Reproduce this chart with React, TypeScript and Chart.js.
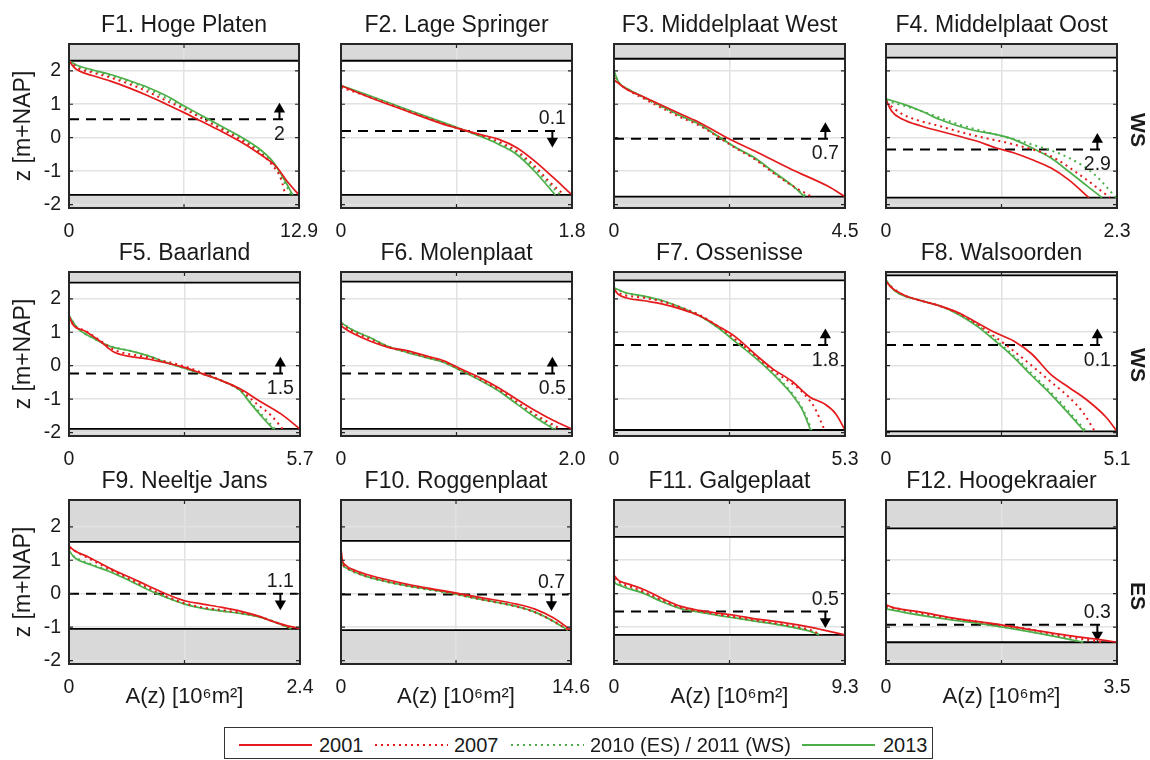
import React, { useEffect, useRef } from 'react';
import { Chart, registerables } from 'chart.js';
Chart.register(...registerables);

type Pt = [number, number];

// ---------------- DATA ----------------
const panelTitles = [
  'F1. Hoge Platen', 'F2. Lage Springer', 'F3. Middelplaat West', 'F4. Middelplaat Oost',
  'F5. Baarland', 'F6. Molenplaat', 'F7. Ossenisse', 'F8. Walsoorden',
  'F9. Neeltje Jans', 'F10. Roggenplaat', 'F11. Galgeplaat', 'F12. Hoogekraaier',
];
const areaMax = [12.9, 1.8, 4.5, 2.3, 5.7, 2.0, 5.3, 5.1, 2.4, 14.6, 9.3, 3.5];
const xMaxLabels = ['12.9', '1.8', '4.5', '2.3', '5.7', '2.0', '5.3', '5.1', '2.4', '14.6', '9.3', '3.5'];
const highWater = [2.3, 2.3, 2.36, 2.39, 2.48, 2.51, 2.55, 2.7, 1.55, 1.58, 1.7, 1.95];
const lowWater = [-1.71, -1.71, -1.76, -1.79, -1.89, -1.89, -1.92, -1.96, -1.05, -1.09, -1.23, -1.45];
const meanLevel = [0.55, 0.2, -0.03, -0.35, -0.23, -0.23, 0.62, 0.62, 0.0, -0.02, -0.53, -0.93];
const changeText = ['2', '0.1', '0.7', '2.9', '1.5', '0.5', '1.8', '0.1', '1.1', '0.7', '0.5', '0.3'];
const changeUp = [true, false, true, true, true, true, true, true, false, false, false, false];
const rowLabels = ['WS', 'WS', 'ES'];
const yTickValues = [-2, -1, 0, 1, 2];
const yTickLabels = ['-2', '-1', '0', '1', '2'];
const legendLabels = ['2001', '2007', '2010 (ES) / 2011 (WS)', '2013'];

const curves2001: Pt[][] = [
  [[0, 2.3], [0.27, 2.11], [0.58, 1.99], [1.3, 1.86], [2.33, 1.69], [3.36, 1.49], [4.4, 1.26], [5.43, 1.01], [6.46, 0.75], [7.39, 0.5], [8.52, 0.2], [9.56, -0.1], [10.59, -0.45], [11.62, -0.86], [12.24, -1.31], [12.9, -1.71]],
  [[0, 1.56], [0.22, 1.21], [0.51, 0.8], [0.8, 0.4], [0.91, 0.28], [1.08, 0.1], [1.23, -0.05], [1.37, -0.3], [1.51, -0.7], [1.66, -1.21], [1.8, -1.71]],
  [[0, 1.73], [0.23, 1.46], [0.59, 1.21], [1.31, 0.7], [1.67, 0.45], [2.24, -0.03], [2.74, -0.4], [3.46, -0.95], [4.18, -1.46], [4.5, -1.76]],
  [[0, 1.14], [0.055, 0.8], [0.166, 0.55], [0.35, 0.35], [0.53, 0.2], [0.72, 0.05], [0.9, -0.1], [1.09, -0.3], [1.27, -0.45], [1.45, -0.65], [1.64, -0.9], [1.82, -1.26], [2.02, -1.79]],
  [[0, 1.46], [0.12, 1.19], [0.39, 1.04], [0.76, 0.74], [1.12, 0.4], [1.94, 0.2], [2.85, -0.05], [3.31, -0.25], [3.77, -0.45], [4.22, -0.69], [4.68, -1.04], [5.23, -1.44], [5.7, -1.89]],
  [[0, 1.19], [0.089, 0.99], [0.25, 0.74], [0.41, 0.55], [0.57, 0.45], [0.73, 0.3], [0.89, 0.15], [1.04, -0.1], [1.2, -0.35], [1.36, -0.65], [1.52, -1.0], [1.68, -1.34], [1.84, -1.64], [2.0, -1.89]],
  [[0, 2.3], [0.1, 2.13], [0.27, 2.03], [0.69, 1.94], [1.12, 1.84], [1.54, 1.69], [1.96, 1.49], [2.38, 1.19], [2.81, 0.84], [3.23, 0.35], [3.65, -0.1], [4.07, -0.45], [4.5, -0.94], [4.83, -1.14], [5.09, -1.44], [5.3, -1.92]],
  [[0, 2.53], [0.12, 2.33], [0.37, 2.13], [0.78, 1.94], [1.18, 1.79], [1.59, 1.59], [2.0, 1.29], [2.41, 0.99], [2.82, 0.74], [3.22, 0.35], [3.63, -0.25], [4.04, -0.65], [4.45, -1.04], [4.86, -1.54], [5.1, -1.96]],
  [[0, 1.43], [0.05, 1.3], [0.2, 1.1], [0.43, 0.75], [0.63, 0.49], [0.82, 0.24], [1.01, -0.01], [1.2, -0.21], [1.39, -0.31], [1.59, -0.41], [1.78, -0.52], [1.97, -0.67], [2.16, -0.87], [2.4, -1.05]],
  [[0, 1.35], [0.07, 1.05], [0.3, 0.85], [0.89, 0.7], [1.82, 0.55], [4.15, 0.29], [6.48, 0.09], [7.65, -0.01], [8.82, -0.11], [11.15, -0.31], [12.31, -0.46], [13.48, -0.72], [14.6, -1.09]],
  [[0, 0.55], [0.18, 0.4], [0.62, 0.28], [1.22, 0.12], [1.96, -0.15], [2.7, -0.38], [3.44, -0.5], [4.18, -0.58], [4.92, -0.65], [5.67, -0.75], [6.41, -0.82], [7.15, -0.9], [7.89, -1.0], [8.63, -1.12], [9.3, -1.23]],
  [[0, -0.33], [0.084, -0.4], [0.53, -0.55], [1.09, -0.75], [1.65, -0.9], [2.21, -1.08], [2.77, -1.25], [3.16, -1.35], [3.5, -1.45]],
];

const curves2007: Pt[][] = [
  [[0, 2.3], [0.5, 2.08], [1.3, 1.95], [2.3, 1.8], [3.4, 1.6], [4.4, 1.38], [5.4, 1.12], [6.5, 0.85], [7.5, 0.56], [8.5, 0.27], [9.6, -0.05], [10.6, -0.4], [11.4, -0.82], [11.9, -1.25], [12.13, -1.71]],
  [[0, 1.5], [0.22, 1.22], [0.51, 0.82], [0.8, 0.42], [1.08, 0.08], [1.23, -0.12], [1.37, -0.4], [1.51, -0.85], [1.62, -1.3], [1.74, -1.71]],
  [[0, 1.8], [0.1, 1.62], [0.3, 1.4], [0.59, 1.16], [1.31, 0.6], [1.67, 0.36], [2.02, 0.03], [2.38, -0.32], [2.74, -0.64], [3.1, -1.05], [3.46, -1.42], [3.85, -1.76]],
  [[0, 1.06], [0.166, 0.7], [0.53, 0.35], [0.9, 0.05], [1.27, -0.2], [1.64, -0.55], [1.93, -1.11], [2.23, -1.79]],
  [[0, 1.46], [0.12, 1.2], [0.39, 1.05], [0.76, 0.76], [1.12, 0.47], [1.94, 0.25], [2.85, -0.02], [3.31, -0.22], [3.77, -0.45], [4.22, -0.72], [4.68, -1.19], [5.0, -1.5], [5.27, -1.89]],
  [[0, 1.25], [0.089, 1.05], [0.25, 0.8], [0.41, 0.56], [0.57, 0.42], [0.73, 0.27], [0.89, 0.12], [1.04, -0.13], [1.2, -0.4], [1.36, -0.7], [1.52, -1.07], [1.68, -1.45], [1.9, -1.89]],
  [[0, 2.23], [0.27, 2.1], [0.69, 2.03], [1.12, 1.91], [1.54, 1.74], [1.96, 1.52], [2.38, 1.18], [2.81, 0.76], [3.23, 0.32], [3.65, -0.15], [4.07, -0.52], [4.33, -0.8], [4.6, -1.25], [4.83, -1.92]],
  [[0, 2.48], [0.37, 2.12], [0.78, 1.94], [1.18, 1.79], [1.59, 1.57], [2.0, 1.25], [2.41, 0.86], [2.82, 0.44], [3.22, 0.0], [3.63, -0.47], [4.04, -0.94], [4.35, -1.4], [4.61, -1.96]],
  [[0, 1.37], [0.24, 1.0], [0.43, 0.72], [0.63, 0.44], [0.82, 0.18], [1.01, -0.08], [1.2, -0.28], [1.39, -0.41], [1.59, -0.49], [1.78, -0.57], [1.97, -0.68], [2.16, -0.87], [2.33, -1.05]],
  [[0, 1.22], [0.07, 0.96], [0.42, 0.76], [1.12, 0.61], [1.82, 0.5], [4.15, 0.25], [6.48, 0.07], [8.82, -0.16], [11.15, -0.38], [12.31, -0.55], [13.48, -0.82], [14.45, -1.09]],
  [[0, 0.45], [0.3, 0.3], [0.62, 0.22], [1.22, 0.05], [1.96, -0.2], [2.7, -0.42], [3.44, -0.53], [4.18, -0.62], [4.92, -0.7], [5.67, -0.79], [6.41, -0.87], [7.15, -0.96], [7.89, -1.08], [8.35, -1.23]],
  [[0, -0.38], [0.25, -0.47], [0.81, -0.68], [1.37, -0.83], [1.65, -0.92], [2.21, -1.07], [2.49, -1.2], [2.9, -1.33], [3.28, -1.45]],
];

const curves2011: Pt[][] = [
  [[0, 2.3], [0.5, 2.14], [1.3, 2.0], [2.3, 1.86], [3.4, 1.67], [4.4, 1.46], [5.4, 1.2], [6.5, 0.9], [7.5, 0.6], [8.5, 0.3], [9.6, 0.0], [10.6, -0.36], [11.4, -0.76], [12.0, -1.25], [12.45, -1.71]],
  [[0, 1.55], [0.22, 1.24], [0.51, 0.83], [0.8, 0.43], [1.08, 0.06], [1.23, -0.16], [1.37, -0.45], [1.51, -0.93], [1.6, -1.3], [1.71, -1.71]],
  [[0, 1.95], [0.09, 1.66], [0.3, 1.43], [0.59, 1.19], [1.31, 0.64], [1.67, 0.39], [2.02, 0.04], [2.38, -0.3], [2.74, -0.62], [3.1, -1.03], [3.46, -1.43], [3.75, -1.76]],
  [[0, 1.11], [0.35, 0.8], [0.72, 0.4], [1.09, 0.1], [1.45, -0.2], [1.82, -0.6], [2.08, -1.11], [2.29, -1.79]],
  [[0, 1.49], [0.21, 1.13], [0.57, 0.84], [1.03, 0.58], [1.49, 0.45], [1.94, 0.3], [2.4, 0.1], [3.04, -0.15], [3.77, -0.45], [4.22, -0.74], [4.5, -1.12], [4.8, -1.52], [5.08, -1.89]],
  [[0, 1.29], [0.089, 1.09], [0.25, 0.84], [0.41, 0.58], [0.57, 0.41], [0.73, 0.26], [0.89, 0.11], [1.04, -0.14], [1.2, -0.42], [1.36, -0.73], [1.52, -1.12], [1.68, -1.5], [1.86, -1.89]],
  [[0, 2.32], [0.27, 2.17], [0.69, 2.07], [1.12, 1.93], [1.54, 1.73], [1.96, 1.49], [2.38, 1.15], [2.81, 0.71], [3.23, 0.27], [3.65, -0.22], [4.07, -0.8], [4.33, -1.3], [4.54, -1.92]],
  [[0, 2.55], [0.2, 2.24], [0.78, 1.94], [1.18, 1.79], [1.59, 1.55], [2.0, 1.22], [2.41, 0.78], [2.82, 0.3], [3.22, -0.24], [3.63, -0.78], [4.04, -1.38], [4.42, -1.96]],
  [[0, 1.27], [0.05, 1.12], [0.24, 0.87], [0.43, 0.67], [0.63, 0.41], [0.82, 0.14], [1.01, -0.1], [1.2, -0.3], [1.39, -0.43], [1.59, -0.51], [1.78, -0.58], [1.97, -0.68], [2.16, -0.86], [2.33, -1.05]],
  [[0, 1.18], [0.07, 0.94], [0.42, 0.74], [1.12, 0.59], [1.82, 0.48], [4.15, 0.23], [6.48, 0.05], [8.82, -0.17], [11.15, -0.39], [12.31, -0.56], [13.48, -0.83], [14.4, -1.09]],
  [[0, 0.35], [0.47, 0.2], [1.22, 0.02], [1.96, -0.23], [2.7, -0.44], [3.44, -0.54], [4.18, -0.64], [4.92, -0.72], [5.67, -0.81], [6.41, -0.89], [7.15, -0.99], [7.89, -1.11], [8.3, -1.23]],
  [[0, -0.43], [0.25, -0.53], [0.81, -0.71], [1.37, -0.87], [1.93, -1.04], [2.49, -1.24], [3.02, -1.45]],
];

const curves2013: Pt[][] = [
  [[0, 2.3], [0.47, 2.16], [1.3, 2.03], [2.33, 1.89], [3.36, 1.71], [4.4, 1.51], [5.43, 1.26], [6.46, 0.95], [7.49, 0.65], [8.52, 0.35], [9.56, 0.05], [10.59, -0.3], [11.41, -0.7], [12.03, -1.21], [12.55, -1.71]],
  [[0, 1.56], [0.22, 1.26], [0.51, 0.85], [0.8, 0.45], [0.91, 0.3], [1.08, 0.05], [1.23, -0.2], [1.37, -0.5], [1.51, -1.01], [1.67, -1.71]],
  [[0, 1.99], [0.09, 1.66], [0.3, 1.43], [0.59, 1.21], [1.31, 0.65], [1.67, 0.4], [2.02, 0.05], [2.38, -0.3], [2.74, -0.6], [3.1, -1.01], [3.46, -1.41], [3.71, -1.76]],
  [[0, 1.16], [0.166, 1.01], [0.35, 0.8], [0.53, 0.55], [0.72, 0.35], [0.9, 0.2], [1.09, 0.1], [1.27, -0.05], [1.45, -0.3], [1.64, -0.6], [1.82, -1.01], [2.01, -1.46], [2.15, -1.79]],
  [[0, 1.49], [0.21, 1.12], [0.57, 0.84], [1.03, 0.57], [1.49, 0.45], [1.94, 0.3], [2.4, 0.1], [3.04, -0.15], [3.77, -0.45], [4.22, -0.74], [4.49, -1.14], [4.77, -1.54], [5.04, -1.89]],
  [[0, 1.29], [0.089, 1.09], [0.25, 0.84], [0.41, 0.57], [0.57, 0.4], [0.73, 0.25], [0.89, 0.1], [1.04, -0.15], [1.2, -0.43], [1.36, -0.74], [1.52, -1.14], [1.68, -1.54], [1.84, -1.89]],
  [[0, 2.33], [0.27, 2.18], [0.69, 2.08], [1.12, 1.94], [1.54, 1.74], [1.96, 1.49], [2.38, 1.14], [2.81, 0.69], [3.23, 0.25], [3.65, -0.25], [4.07, -0.84], [4.33, -1.34], [4.51, -1.92]],
  [[0, 2.55], [0.2, 2.23], [0.78, 1.94], [1.18, 1.79], [1.59, 1.54], [2.0, 1.19], [2.41, 0.74], [2.82, 0.25], [3.22, -0.3], [3.63, -0.84], [4.04, -1.44], [4.38, -1.96]],
  [[0, 1.3], [0.05, 1.1], [0.24, 0.85], [0.43, 0.65], [0.63, 0.39], [0.82, 0.12], [1.01, -0.11], [1.2, -0.31], [1.39, -0.44], [1.59, -0.52], [1.78, -0.59], [1.97, -0.69], [2.16, -0.87], [2.31, -1.05]],
  [[0, 1.2], [0.07, 0.95], [0.42, 0.75], [1.12, 0.6], [1.82, 0.49], [4.15, 0.24], [6.48, 0.06], [8.82, -0.16], [11.15, -0.38], [12.31, -0.55], [13.48, -0.82], [14.41, -1.09]],
  [[0, 0.32], [0.47, 0.18], [1.22, 0.0], [1.96, -0.25], [2.7, -0.45], [3.44, -0.55], [4.18, -0.65], [4.92, -0.73], [5.67, -0.82], [6.41, -0.9], [7.15, -1.0], [7.89, -1.12], [8.26, -1.23]],
  [[0, -0.45], [0.25, -0.55], [0.81, -0.73], [1.37, -0.88], [1.93, -1.05], [2.49, -1.25], [2.99, -1.45]],
];

// ---------------- LAYOUT / STYLE ----------------
const FONT = '"Liberation Sans", Arial, Helvetica, sans-serif';
const RED = '#e41a1c';
const GREEN = '#4daf4a';
const BAND = '#d9d9d9';
const GRID = '#e2e2e2';
const BOX = '#262626';
const TEXT = '#1a1a1a';

const PLOT_LEFT = [69, 341, 614, 886];
const PLOT_TOP = [44, 272, 500];
const PLOT_W = 231;
const PLOT_H = 164;
const Y_AXIS_W = 64;
const TITLE_H = 40;
const X_AXIS_H = 48;
const RIGHT_PAD = 30;
const Y_MIN = -2.1;
const Y_MAX = 2.8;
const ROW_LABEL_Y = [130, 365, 596];

const toXY = (pts: Pt[]) => pts.map(([a, z]) => ({ x: a, y: z }));

function Panel({ i }: { i: number }) {
  const ref = useRef<HTMLCanvasElement>(null);
  const row = Math.floor(i / 4);
  const col = i % 4;
  const w = Y_AXIS_W + PLOT_W + RIGHT_PAD;
  const h = TITLE_H + PLOT_H + X_AXIS_H;

  useEffect(() => {
    const max = areaMax[i];
    const dashEnd = row === 2 && col < 2 ? max * 0.99 : max * 0.95;
    const arrowX = max * 0.915;
    const up = changeUp[i];
    const tip = up ? meanLevel[i] + 0.3 : meanLevel[i] - 0.3;
    const labelZ = up ? meanLevel[i] - 0.46 : meanLevel[i] + 0.36;

    const curve = (pts: Pt[], color: string, dotted: boolean) => ({
      data: toXY(pts),
      borderColor: color,
      borderWidth: dotted ? 2 : 1.7,
      borderDash: dotted ? [2, 4] : [],
      pointRadius: 0,
      fill: false,
      cubicInterpolationMode: 'monotone',
    });

    const decor = {
      id: 'panelDecor' + i,
      beforeDraw(chart: any) {
        const { ctx, chartArea: a, scales } = chart;
        const y = scales.y;
        const yh = y.getPixelForValue(highWater[i]);
        const yl = y.getPixelForValue(lowWater[i]);
        ctx.save();
        ctx.fillStyle = BAND;
        ctx.fillRect(a.left, a.top, a.right - a.left, yh - a.top);
        ctx.fillRect(a.left, yl, a.right - a.left, a.bottom - yl);
        ctx.restore();
      },
      afterDraw(chart: any) {
        const { ctx, chartArea: a, scales } = chart;
        const x = scales.x;
        const y = scales.y;
        ctx.save();
        ctx.strokeStyle = BOX;
        ctx.lineWidth = 1.2;
        ctx.beginPath();
        yTickValues.forEach((v) => {
          const py = y.getPixelForValue(v);
          ctx.moveTo(a.left, py);
          ctx.lineTo(a.left + 4, py);
          ctx.moveTo(a.right, py);
          ctx.lineTo(a.right - 4, py);
        });
        const mx = x.getPixelForValue(max / 2);
        ctx.moveTo(mx, a.top);
        ctx.lineTo(mx, a.top + 4);
        ctx.moveTo(mx, a.bottom);
        ctx.lineTo(mx, a.bottom - 4);
        ctx.stroke();
        ctx.lineWidth = 2;
        ctx.strokeRect(a.left, a.top, a.right - a.left, a.bottom - a.top);
        ctx.fillStyle = TEXT;
        ctx.font = '19.5px ' + FONT;
        ctx.textAlign = 'center';
        ctx.textBaseline = 'middle';
        ctx.fillText(changeText[i], x.getPixelForValue(arrowX), y.getPixelForValue(labelZ));
        ctx.restore();
      },
    };

    const config: any = {
      type: 'line',
      data: {
        datasets: [
          curve(curves2001[i], RED, false),
          curve(curves2007[i], RED, true),
          curve(curves2011[i], GREEN, true),
          curve(curves2013[i], GREEN, false),
          {
            data: [{ x: 0, y: highWater[i] }, { x: max, y: highWater[i] }],
            borderColor: '#000', borderWidth: 1.8, pointRadius: 0,
          },
          {
            data: [{ x: 0, y: lowWater[i] }, { x: max, y: lowWater[i] }],
            borderColor: '#000', borderWidth: 1.8, pointRadius: 0,
          },
          {
            data: [{ x: 0, y: meanLevel[i] }, { x: dashEnd, y: meanLevel[i] }],
            borderColor: '#000', borderWidth: 2, borderDash: [10, 7], pointRadius: 0,
          },
          {
            data: [{ x: arrowX, y: meanLevel[i] }, { x: arrowX, y: tip }],
            borderColor: '#000', borderWidth: 2,
            pointRadius: [0, 6.5], pointStyle: 'triangle',
            pointRotation: up ? 0 : 180,
            pointBackgroundColor: '#000', pointBorderColor: '#000', pointBorderWidth: 0,
          },
        ],
      },
      options: {
        responsive: false,
        animation: false,
        events: [],
        layout: { padding: { left: 0, top: 0, bottom: 0, right: RIGHT_PAD } },
        plugins: {
          legend: { display: false },
          tooltip: { enabled: false },
          title: {
            display: true,
            fullSize: false,
            text: panelTitles[i],
            color: TEXT,
            font: { family: FONT, size: 23, weight: 'normal', lineHeight: 1.2 },
            padding: { top: 8, bottom: 4.4 },
          },
        },
        scales: {
          x: {
            type: 'linear',
            min: 0,
            max: max,
            afterBuildTicks: (s: any) => { s.ticks = [{ value: 0 }, { value: max / 2 }, { value: max }]; },
            afterFit: (s: any) => { s.height = X_AXIS_H; },
            ticks: {
              padding: 12,
              color: TEXT,
              maxRotation: 0,
              autoSkip: false,
              font: { family: FONT, size: 19.5 },
              callback: (_v: any, idx: number) => (idx === 0 ? '0' : idx === 2 ? xMaxLabels[i] : ''),
            },
            grid: {
              drawTicks: false,
              lineWidth: 1.5,
              color: (ctx: any) => (ctx.index === 1 ? GRID : 'rgba(0,0,0,0)'),
            },
            border: { display: false },
            title: {
              display: row === 2,
              text: 'A(z) [10⁶m²]',
              color: TEXT,
              font: { family: FONT, size: 22, lineHeight: 1.2 },
              padding: { top: 0, bottom: 1.8 },
            },
          },
          y: {
            type: 'linear',
            min: Y_MIN,
            max: Y_MAX,
            afterBuildTicks: (s: any) => { s.ticks = yTickValues.map((v) => ({ value: v })); },
            afterFit: (s: any) => { s.width = Y_AXIS_W; },
            ticks: {
              display: col === 0,
              padding: 8,
              color: TEXT,
              font: { family: FONT, size: 19.5 },
              callback: (v: any) => yTickLabels[yTickValues.indexOf(Number(v))] ?? '',
            },
            grid: { drawTicks: false, lineWidth: 1.5, color: GRID },
            border: { display: false },
            title: {
              display: col === 0,
              text: 'z [m+NAP]',
              color: TEXT,
              font: { family: FONT, size: 23, lineHeight: 1.2 },
              padding: { top: 5.2, bottom: 0 },
            },
          },
        },
      },
      plugins: [decor],
    };
    const chart = new Chart(ref.current as HTMLCanvasElement, config);
    return () => chart.destroy();
  }, [i]);

  return (
    <canvas
      ref={ref}
      width={w}
      height={h}
      style={{ position: 'absolute', left: PLOT_LEFT[col] - Y_AXIS_W, top: PLOT_TOP[row] - TITLE_H, width: w, height: h }}
    />
  );
}

function LegendSample({ color, dotted, left }: { color: string; dotted: boolean; left: number }) {
  return (
    <div
      style={{
        position: 'absolute',
        left,
        top: 16,
        width: 73,
        height: 2,
        background: dotted
          ? `repeating-linear-gradient(to right, ${color} 0px, ${color} 2px, rgba(0,0,0,0) 2px, rgba(0,0,0,0) 6px)`
          : color,
      }}
    />
  );
}

export default function App() {
  const legendItems = [
    { color: RED, dotted: false, line: 14, text: 94 },
    { color: RED, dotted: true, line: 150, text: 229 },
    { color: GREEN, dotted: true, line: 286, text: 365 },
    { color: GREEN, dotted: false, line: 577, text: 658 },
  ];
  return (
    <div style={{ position: 'absolute', left: 0, top: 0, width: 1150, height: 760, overflow: 'hidden', background: '#fff', fontFamily: FONT }}>
      {panelTitles.map((_, i) => (
        <Panel key={i} i={i} />
      ))}
      {rowLabels.map((t, r) => (
        <div
          key={t + r}
          style={{
            position: 'absolute',
            left: 1138,
            top: ROW_LABEL_Y[r],
            transform: 'translate(-50%, -50%) rotate(90deg)',
            fontWeight: 'bold',
            fontSize: 21,
            color: TEXT,
            whiteSpace: 'nowrap',
          }}
        >
          {t}
        </div>
      ))}
      <div
        style={{
          position: 'absolute',
          left: 224,
          top: 727,
          width: 709,
          height: 32,
          boxSizing: 'border-box',
          border: '1.5px solid #333',
          background: '#fff',
        }}
      >
        {legendItems.map((it, k) => (
          <React.Fragment key={k}>
            <LegendSample color={it.color} dotted={it.dotted} left={it.line} />
            <div
              style={{
                position: 'absolute',
                left: it.text,
                top: 17,
                transform: 'translateY(-50%)',
                fontSize: 20,
                color: TEXT,
                whiteSpace: 'nowrap',
                lineHeight: 1,
              }}
            >
              {legendLabels[k]}
            </div>
          </React.Fragment>
        ))}
      </div>
    </div>
  );
}
